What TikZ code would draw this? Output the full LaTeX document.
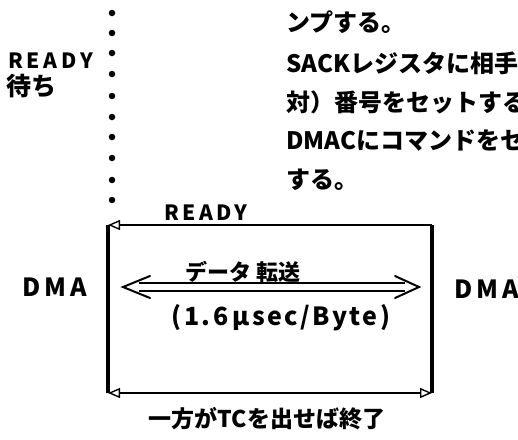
\documentclass[tikz,border=0pt]{standalone}
\usepackage{fontspec}
\setmainfont{Noto Sans CJK JP}
\usetikzlibrary{arrows.meta,calc}
\begin{document}
\begin{tikzpicture}[x=1pt,y=-1pt,
  lbl/.style={inner sep=0pt,font=\fontsize{22}{24}\selectfont\bfseries},
  side/.style={inner sep=0pt,anchor=west,font=\fontsize{24}{26}\selectfont\bfseries},
  dotmark/.style={circle,fill=black,inner sep=0pt,minimum size=6.5pt},
  boxv/.style={line width=3.2pt},
  boxh/.style={line width=1.6pt},
  chev/.style={line width=2pt,line join=miter,line cap=round},
  rail/.style={line width=1.8pt}]
\useasboundingbox (0,0) rectangle (518,439);
\clip (0,0) rectangle (518,439);
% dotted waiting line
\foreach \i/\yy in {1/13,2/33,3/53,4/74,5/96,6/117,7/137,8/158,9/180,10/200}
  \node[dotmark] (d\i) at (112,\yy) {};
\node[lbl,anchor=west,font=\fontsize{21}{24}\selectfont\bfseries\addfontfeatures{LetterSpace=18}] (rw) at (8,61) {READY};
\node[lbl,anchor=west,font=\fontsize{25}{27}\selectfont\bfseries] (rw2) at (6,86) {待ち};
% right-hand text
\node[side] (t1) at (286,22) {ンプする。};
\node[side] (t2) at (286,63) {SACKレジスタに相手};
\node[side] (t3) at (286,102) {対）番号をセットする};
\node[side] (t4) at (286,141) {DMACにコマンドをセ};
\node[side] (t5) at (286,180) {する。};
% box corners
\coordinate (TL) at (108,225);
\coordinate (TR) at (432,225);
\coordinate (BL) at (108,393);
\coordinate (BR) at (432,393);
\draw[boxv] (TL) -- (BL);
\draw[boxv] (TR) -- (BR);
\draw[boxh,-{Triangle[open,length=12pt,width=10pt,line width=1.4pt]}] (TR) -- (TL);
\draw[boxh,{Triangle[open,length=12pt,width=10pt,line width=1.4pt]}-{Triangle[open,length=12pt,width=10pt,line width=1.4pt]}] (BL) -- (BR);
\node[lbl,font=\fontsize{21}{24}\selectfont\bfseries\addfontfeatures{LetterSpace=16}] (ready) at (206,213) {READY};
% DMA labels
\node[lbl,font=\fontsize{25}{27}\selectfont\bfseries\addfontfeatures{LetterSpace=15}] (dmaL) at (55,287) {DMA};
\node[lbl,font=\fontsize{25}{27}\selectfont\bfseries\addfontfeatures{LetterSpace=15}] (dmaR) at (487,289) {DMA};
% data transfer double arrow
\coordinate (AL) at (123,287);
\coordinate (AR) at (419,287);
\draw[chev] ($(AL)+(27,-11)$) -- (AL) -- ($(AL)+(27,11)$);
\draw[chev] ($(AR)+(-24,-11)$) -- (AR) -- ($(AR)+(-24,11)$);
\draw[rail] ($(AL)+(16,-4)$) -- ($(AR)+(-14,-4)$);
\draw[rail] ($(AL)+(16,4)$) -- ($(AR)+(-14,4)$);
\node[lbl,font=\fontsize{22}{24}\selectfont\bfseries] (dt) at (243,272) {データ 転送};
\node[lbl,font=\fontsize{25}{27}\selectfont\bfseries\addfontfeatures{LetterSpace=10}] (rate) at (281,318) {(1.6\,μsec/Byte)};
\node[lbl,font=\fontsize{23}{25}\selectfont\bfseries] (end) at (267,419) {一方がTCを出せば終了};
\end{tikzpicture}
\end{document}
